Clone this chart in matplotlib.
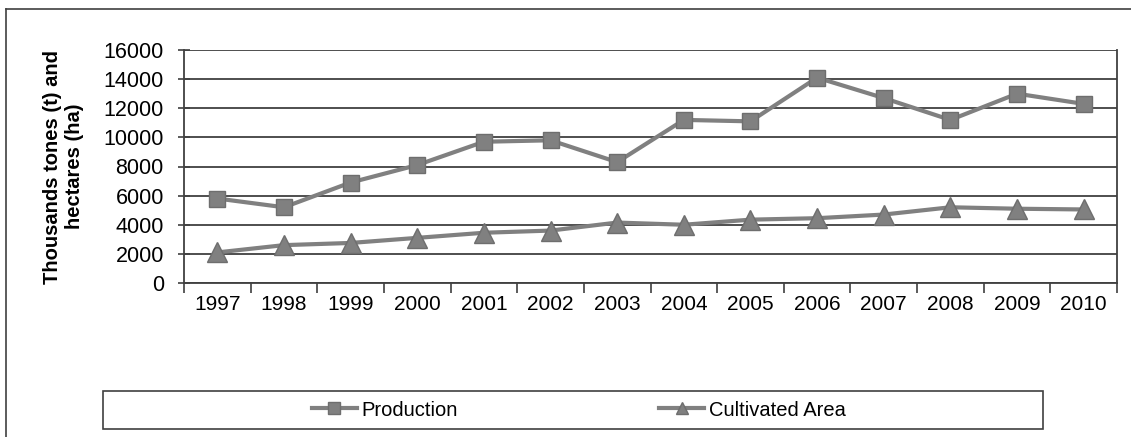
import matplotlib.pyplot as plt
from matplotlib.patches import Rectangle
from matplotlib.lines import Line2D

plt.rcParams['font.family'] = ['Liberation Sans', 'DejaVu Sans']

# data
years = ['1997', '1998', '1999', '2000', '2001', '2002', '2003',
         '2004', '2005', '2006', '2007', '2008', '2009', '2010']
production = [5800, 5200, 6900, 8100, 9700, 9800, 8300,
              11200, 11100, 14100, 12700, 11200, 13000, 12300]
cultivated = [2100, 2600, 2750, 3100, 3450, 3600, 4150,
              4000, 4350, 4450, 4700, 5200, 5100, 5050]

W, H = 1131, 437
fig = plt.figure(figsize=(W / 100, H / 100), dpi=100)
ax = fig.add_axes([184 / W, 1 - 283 / H, (1117 - 184) / W, (283 - 50) / H])

x = list(range(len(years)))
grey = '#808080'
ax.plot(x, production, color=grey, lw=3, marker='s', ms=12,
        mfc=grey, mec='#6e6e6e', label='Production', zorder=3)
ax.plot(x, cultivated, color=grey, lw=3, marker='^', ms=14,
        mfc=grey, mec='#6e6e6e', label='Cultivated Area', zorder=3)

ax.set_xlim(-0.5, len(years) - 0.5)
ax.set_ylim(0, 16000)
ax.set_yticks(range(0, 16001, 2000))
ax.yaxis.grid(True, color='#404040', lw=1.3)
ax.set_axisbelow(True)

# category labels centered, tick marks between categories
ax.set_xticks(x)
ax.set_xticklabels(years, fontsize=15)
ax.tick_params(axis='x', which='major', length=0, pad=9)
ax.set_xticks([i - 0.5 for i in range(len(years) + 1)], minor=True)
ax.tick_params(axis='x', which='minor', length=7, width=1.2, color='#404040')
ax.tick_params(axis='y', labelsize=15.5, length=9, width=1.2, color='#404040',
               direction='inout', pad=10)

for s in ['left', 'bottom', 'right']:
    ax.spines[s].set_color('#404040')
    ax.spines[s].set_linewidth(1.3)
ax.spines['top'].set_visible(False)

ax.set_ylabel('Thousands tones (t) and\nhectares (ha)', fontsize=14.5,
              fontweight='bold', labelpad=14, linespacing=1.2)

# outer chart border (left and top edges visible)
fig.add_artist(Line2D([6 / W, 6 / W], [0, 1 - 9 / H], color='#404040', lw=1.2))
fig.add_artist(Line2D([6 / W, 1], [1 - 9 / H, 1 - 9 / H], color='#404040', lw=1.2))

# legend box
fig.add_artist(Rectangle((103 / W, 1 - 429 / H), (1043 - 103) / W, 38 / H,
                         fill=False, ec='#404040', lw=1.2, transform=fig.transFigure))
handles = [Line2D([], [], color=grey, lw=3, marker='s', ms=8, mfc=grey, mec='#6e6e6e'),
           Line2D([], [], color=grey, lw=3, marker='^', ms=9, mfc=grey, mec='#6e6e6e')]
fig.legend(handles, ['Production', 'Cultivated Area'], loc='center',
           bbox_to_anchor=(579 / W, 1 - 410 / H), ncol=2, frameon=False,
           fontsize=14.5, handlelength=2.2, handletextpad=0.25, columnspacing=10)

fig.savefig('out.png', dpi=100)
